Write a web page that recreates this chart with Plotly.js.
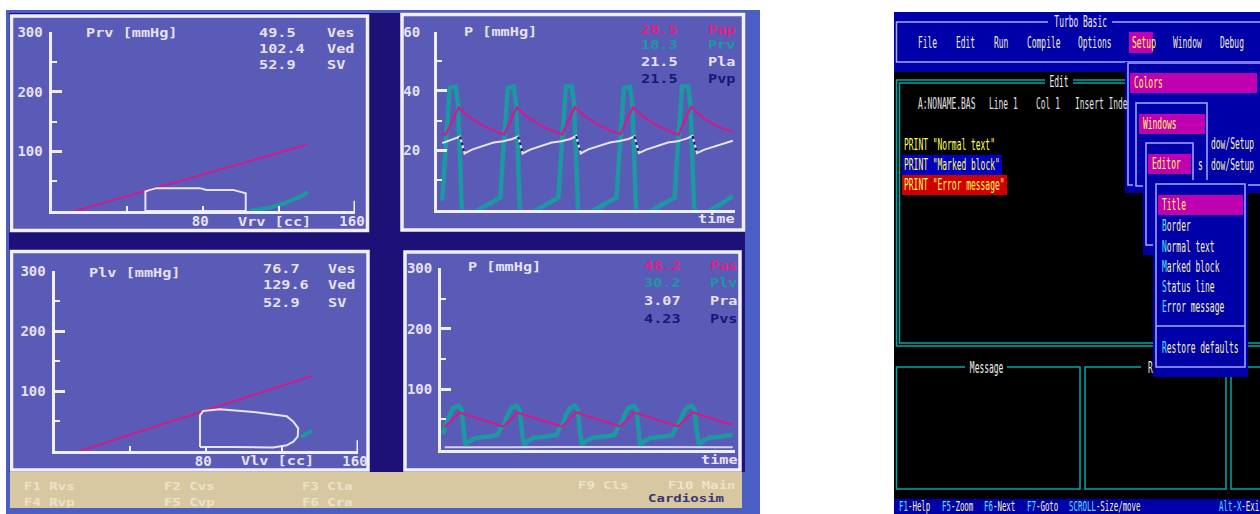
<!DOCTYPE html>
<html><head><meta charset="utf-8">
<script src="https://cdn.plot.ly/plotly-3.0.1.min.js"></script>
<style>html,body{margin:0;padding:0;background:#fff;overflow:hidden}#chart{width:1260px;height:514px}</style>
</head><body><div id="chart"></div>
<script>
// ---------------- DATA ----------------
// Top-left: right ventricle P-V plane (Vrv [cc], Prv [mmHg])
const rvEspvrV = [12.5, 134.6];
const rvEspvrP = [0, 111];
const rvLoopV = [49.5, 49.5, 51.5, 55.4, 78.2, 81.7, 95.7, 99.2, 102.4, 102.4, 49.5];
const rvLoopP = [0, 32.6, 35, 38.3, 38.3, 35.4, 35.4, 32.6, 29.8, 0, 0];
const rvEdpvrV = [104.5, 113.5, 122, 127.5, 132.5, 135];
const rvEdpvrP = [0, 4.5, 11.8, 18.5, 26, 32.5];
const rvValues = ['49.5', '102.4', '52.9'];
const rvNames = ['Ves', 'Ved', 'SV'];

// Top-right: pulmonary pressures vs time [s]
const tPrv = [0.07,0.11,0.15,0.17,0.25,0.28,0.31,0.33,0.36,0.49,0.67,0.81,
              0.85,0.89,0.93,0.95,1.03,1.06,1.09,1.11,1.14,1.27,1.45,1.59,
              1.63,1.67,1.71,1.73,1.81,1.84,1.87,1.89,1.92,2.05,2.23,2.37,
              2.41,2.45,2.49,2.51,2.59,2.62,2.65,2.67,2.70,2.83,3.01,3.15,
              3.19,3.23,3.27,3.29,3.37,3.40,3.43,3.45,3.48,3.61,3.79,3.97];
const Prv  = [3,20,36,41,41.5,36,16,1,-2,-1,1.5,3.5,
              4,20,36,41,41.5,36,16,1,-2,-1,1.5,3.5,
              4,20,36,41.5,41.5,36,16,1,-2,-1,1.5,3.5,
              4,20,36,41,41.5,36,16,1,-2,-1,1.5,3.5,
              4,20,36,41.5,41.5,36,16,1,-2,-1,1.5,4.5];
const tPap = [0.07,0.12,0.29,0.42,0.58,0.74,0.90,1.07,1.20,1.36,1.52,1.68,1.85,1.98,
              2.14,2.30,2.46,2.63,2.76,2.92,3.08,3.24,3.41,3.54,3.70,3.86,3.97];
const Pap  = [25.6,25.3,34.3,31.5,28.8,26.8,25.3,34.3,31.5,28.8,26.8,25.3,34.5,31.6,
              28.9,26.9,25.4,34.4,31.5,28.8,26.8,25.2,34.6,31.6,28.9,27.0,26.4];
const tPla = [0.07,0.23,0.31,0.37,0.47,0.60,0.76,0.89,1.01,1.09,1.15,1.25,1.38,1.54,
              1.67,1.79,1.87,1.93,2.03,2.16,2.32,2.45,2.57,2.65,2.71,2.81,2.94,3.10,
              3.23,3.35,3.43,3.49,3.59,3.72,3.88,3.97];
const Pla  = [22.4,23.8,24.6,18.9,20.2,21.3,22.6,23.0,23.8,24.6,18.9,20.2,21.3,22.6,
              23.0,23.8,24.8,18.9,20.3,21.4,22.6,23.1,23.8,24.7,19.0,20.2,21.3,22.6,
              23.0,23.9,24.8,19.0,20.2,21.3,22.6,23.2];
const tPvp = [0.31,0.37,null,1.09,1.15,null,1.87,1.93,null,2.65,2.71,null,3.43,3.49];
const Pvp  = [24.6,18.9,null,24.6,18.9,null,24.8,18.9,null,24.7,19.0,null,24.8,19.0];
const pulValues = ['28.5', '18.3', '21.5', '21.5'];
const pulNames = ['Pap', 'Prv', 'Pla', 'Pvp'];

// Bottom-left: left ventricle P-V plane (Vlv [cc], Plv [mmHg])
const lvEspvrV = [13.5, 135.7];
const lvEspvrP = [0, 125];
const lvLoopV = [76.7, 76.7, 78.4, 87.2, 104.8, 122.4, 125.9, 128.5, 128.2, 125.9, 122.4, 115.3, 94.3, 78.4, 76.7];
const lvLoopP = [6.7, 59.5, 66.7, 69.5, 65, 58, 48.8, 37.7, 23.8, 15.5, 9.5, 5.7, 6.7, 6.7, 6.7];
const lvEdpvrV = [130, 133, 135.6];
const lvEdpvrP = [23.5, 30, 34];
const lvValues = ['76.7', '129.6', '52.9'];
const lvNames = ['Ves', 'Ved', 'SV'];

// Bottom-right: systemic pressures vs time [s]
const tPas = [0.04,0.06,0.25,0.41,0.58,0.74,0.85,1.04,1.21,1.37,1.53,1.65,1.84,2.00,
              2.16,2.33,2.44,2.63,2.79,2.96,3.12,3.23,3.42,3.59,3.75,3.91,3.97];
const Pas  = [38.5,38,61,55,48.5,42.5,38,61,55,48.5,42.5,38,61.5,55,
              48.5,42.5,38,61,55,48.5,42.5,38,61.5,55,48.5,42.5,41.5];
const tPlv = [0.03,0.06,0.12,0.17,0.24,0.28,0.31,0.33,0.39,0.47,0.67,
              0.77,0.81,0.85,0.91,0.96,1.03,1.07,1.10,1.13,1.18,1.26,1.46,
              1.57,1.61,1.65,1.70,1.76,1.82,1.86,1.89,1.92,1.97,2.05,2.26,
              2.36,2.40,2.44,2.50,2.55,2.62,2.66,2.69,2.71,2.77,2.85,3.05,
              3.15,3.19,3.23,3.29,3.34,3.41,3.45,3.48,3.51,3.56,3.64,3.84,3.97];
const Plv  = [25,40,58,69,72,66,30,8,14,19,22,
              24,35,40,58,69,72,66,30,8,14,19,22,
              24,35,40,58,69,72,66,30,8,14,19,22,
              24,35,40,58,69,72,66,30,8,14,19,22,
              24,35,40,58,69,72,66,30,8,14,19,22,24.5];
const tPra = [0.05,0.80,1.60,2.40,3.20,3.97];
const Pra  = [3.6,4.2,4.0,4.2,4.1,3.8];
const sysValues = ['48.2', '30.2', '3.07', '4.23'];
const sysNames = ['Pas', 'Plv', 'Pra', 'Pvs'];

// Axis tick labels
const pvTickVals = [100, 200, 300];
const pvMinorVals = [50, 150, 250];
const volTickVals = [80, 160];
const volMinorVals = [40, 120];
const pulTickVals = [20, 40, 60];
const pulMinorVals = [10, 30, 50];

// Turbo Basic screen texts
const menuItems = ['File', 'Edit', 'Run', 'Compile', 'Options', 'Setup', 'Window', 'Debug'];
const editLines = ['PRINT "Normal text"', 'PRINT "Marked block"', 'PRINT "Error message"'];
const colorItems = ['Title', 'Border', 'Normal text', 'Marked block', 'Status line', 'Error message', 'Restore defaults'];
const statusKeys = [['F1', '-Help'], ['F5', '-Zoom'], ['F6', '-Next'], ['F7', '-Goto'], ['SCROLL', '-Size/move'], ['Alt-X', '-Exi']];

// ---------------- STYLE / LAYOUT ----------------
const W = 1260, H = 514;
const px = x => x / W, py = y => 1 - y / H;
const MAG = '#c81f8c', MAGT = '#df2188', TEAL = '#1b98a2', WHT = '#e8e4ee', NAVY = '#17177a';
const FG = '#f1f0f8', PANEL = '#5a5bb6', DARK = '#1d1177', LBLUE = '#4a5ec3';
const CRT = 'DejaVu Sans Mono, Liberation Mono, monospace';
const DOS = 'DejaVu Sans Mono, Liberation Mono, monospace';
const TICKFONT = {family: CRT, size: 14, color: '#e6e1ee', weight: 'bold'};

const shapes = [];
function rect(x0, y0, x1, y1, fill, line, lw) {
  shapes.push({type: 'rect', xref: 'paper', yref: 'paper', x0: px(x0), x1: px(x1), y0: py(y1), y1: py(y0),
    fillcolor: fill || 'rgba(0,0,0,0)', line: {color: line || 'rgba(0,0,0,0)', width: line ? (lw || 1.5) : 0}, layer: 'below'});
}
function hline(x0, x1, y, color, lw) {
  shapes.push({type: 'line', xref: 'paper', yref: 'paper', x0: px(x0), x1: px(x1), y0: py(y), y1: py(y),
    line: {color: color, width: lw || 1.5}, layer: 'below'});
}

// Left photograph (CRT)
rect(6, 10, 760, 514, LBLUE);
rect(9, 13, 745, 472, DARK);
rect(11.5, 16, 367.5, 230.5, PANEL, FG, 3.5);
rect(402, 14.5, 743.5, 230, PANEL, FG, 3.5);
rect(11.5, 251.5, 368, 470, PANEL, FG, 3.5);
rect(405, 252, 740, 470, PANEL, FG, 3.5);
rect(10, 472, 742, 508, '#d8c8a1');

// Right screenshot (Turbo Basic)
const DBLUE = '#0000a8', TEALL = '#00a8a8', MENUL = '#a8a8ff', MAGB = '#c000b0';
rect(894, 12, 1260, 514, '#000000');
rect(894, 12, 1260, 72, DBLUE);
rect(894, 499, 1260, 514, DBLUE);
rect(896.5, 22, 1264, 62, null, MENUL, 1.5);
rect(1048, 16, 1112, 28, DBLUE);
rect(1129, 32, 1153, 53, MAGB);
rect(896.5, 80, 1270, 346, null, TEALL, 1.5);
rect(899.5, 83, 1270, 343, null, TEALL, 1.5);
rect(1045, 75, 1073, 88, '#000000');
rect(896.5, 367, 1080, 489, null, TEALL, 1.5);
rect(965, 362, 1007, 373, '#000000');
rect(1085, 367, 1226, 489, null, TEALL, 1.5);
rect(1141, 362, 1153, 373, '#000000');
rect(1231, 367, 1275, 489, null, TEALL, 1.5);
rect(902, 155, 1002, 175, '#0000c0');
rect(902, 175, 1007, 195, '#d00000');
rect(1125, 62, 1262, 193, DBLUE);
rect(1128, 63, 1264, 185, null, MENUL, 1.5);
rect(1130, 73, 1257, 93, MAGB);
rect(1133, 100, 1210, 190, DBLUE);
rect(1136, 103, 1207, 186, null, MENUL, 1.5);
rect(1139, 114, 1205, 134, MAGB);
rect(1143, 140, 1196, 255, DBLUE);
rect(1146, 143, 1193, 245, null, MENUL, 1.5);
rect(1148, 154, 1191, 174, MAGB);
rect(1153, 180, 1248, 377, DBLUE);
rect(1156, 184, 1245, 367, null, MENUL, 1.5);
rect(1158, 195, 1243, 215, MAGB);
hline(1156, 1245, 326, MENUL, 1.5);

// end ticks on volume axes
shapes.push({type: 'line', xref: 'x', yref: 'y', x0: 160, x1: 160, y0: 0, y1: 17, line: {color: FG, width: 3}});
shapes.push({type: 'line', xref: 'x3', yref: 'y3', x0: 160, x1: 160, y0: 0, y1: 18, line: {color: FG, width: 3}});

const annotations = [];
const textScale = [];
function T(x, y, text, color, size, family, weight, sx, sy, anchor) {
  annotations.push({xref: 'paper', yref: 'paper', x: px(x), y: py(y), text: text, showarrow: false,
    xanchor: anchor || 'left', yanchor: 'middle', borderpad: 0,
    font: {family: family || CRT, size: size || 13, color: color, weight: weight || 'bold'}});
  textScale.push([sx || 1, sy || 1, anchor || 'left']);
}
const C = (x, y, text, color, size) => T(x, y, text, color, size || 13, CRT, 'bold', 1.17, 0.88);
const D = (x, y, text, color, anchor, size) => T(x, y, text, color, size || 15, DOS, 'normal', 0.53, 1.02, anchor);

// CRT texts
const LT = '#e6e1ee';
C(85, 34, 'Prv [mmHg]', LT);
rvValues.forEach((v, i) => { C(258, [34, 49, 65][i], v, LT); C(326, [34, 49, 65][i], rvNames[i], LT); });
C(237, 222, 'Vrv [cc]', LT);
C(463, 32, 'P [mmHg]', LT);
const pulCols = [MAGT, TEAL, LT, NAVY];
pulValues.forEach((v, i) => { C(640, [30, 45, 62, 79][i], v, pulCols[i]); C(707, [30, 45, 62, 79][i], pulNames[i], pulCols[i]); });
C(697, 219, 'time', LT);
C(88, 273, 'Plv [mmHg]', LT);
lvValues.forEach((v, i) => { C(262, [269, 285, 303][i], v, LT); C(327, [269, 285, 303][i], lvNames[i], LT); });
C(240, 461, 'Vlv [cc]', LT);
C(467, 267, 'P [mmHg]', LT);
sysValues.forEach((v, i) => { C(643, [266, 283, 301, 319][i], v, pulCols[i]); C(709, [266, 283, 301, 319][i], sysNames[i], pulCols[i]); });
C(700, 460, 'time', LT);
// function-key bar
const FK = '#ece3c8';
C(23, 487, 'F1 Rvs', FK, 12); C(23, 503, 'F4 Rvp', FK, 12);
C(163, 487, 'F2 Cvs', FK, 12); C(163, 503, 'F5 Cvp', FK, 12);
C(301, 487, 'F3 Cla', FK, 12); C(301, 503, 'F6 Cra', FK, 12);
C(577, 486, 'F9 Cls', FK, 12); C(667, 486, 'F10 Main', FK, 12);
C(647, 499, 'Cardiosim', '#3a3678', 12);

// Turbo Basic texts
const MENU = '#eeeec8', YEL = '#ffff55', CY = '#4ae8ff', LY = '#f4f4b4', WT = '#eeeeee';
D(1080, 22, 'Turbo Basic', WT, 'center');
const menuX = [917, 955, 993, 1026, 1077, 1131, 1172, 1219];
menuItems.forEach((m, i) => D(menuX[i], 43, m, m === 'Setup' ? YEL : MENU));
D(1059, 82, 'Edit', WT, 'center');
D(917, 104, 'A:NONAME.BAS', '#e0e0e0');
D(988, 104, 'Line 1', '#e0e0e0');
D(1035, 104, 'Col 1', '#e0e0e0');
D(1074, 104, 'Insert Inde', '#e0e0e0');
editLines.forEach((s, i) => D(903, [145, 165, 185][i], s, YEL));
D(1133, 83, 'Colors', YEL);
D(1142, 124, 'Windows', YEL);
D(1210, 144, 'dow/Setup', LY);
D(1210, 165, 'dow/Setup', LY);
D(1151, 164, 'Editor', YEL);
D(1197, 165, 's', LY);
const colorY = [205, 226, 247, 267, 287, 307, 348];
colorItems.forEach((s, i) => {
  if (i === 0) D(1161, colorY[i], s, YEL);
  else D(1161, colorY[i], '<span style="color:' + CY + '">' + s[0] + '</span>' + s.slice(1), LY);
});
D(986, 368, 'Message', WT, 'center');
D(1147, 368, 'R', WT);
const statusX = [898, 941, 983, 1026, 1068, 1218];
statusKeys.forEach((s, i) => D(statusX[i], 505.5, '<span style="color:' + CY + '">' + s[0] + '</span>' + s[1], LY, 'left', 14));

// axes
const base = {showgrid: false, zeroline: false, showline: true, linecolor: FG, linewidth: 3, fixedrange: true,
  tickfont: TICKFONT, tickcolor: FG};
function volAxis(dom, anchor) {
  return Object.assign({}, base, {domain: dom, range: [0, 160], anchor: anchor, tickmode: 'array',
    tickvals: volTickVals, ticktext: volTickVals.map(String), ticks: 'inside', ticklen: 5, tickwidth: 2,
    ticklabelshift: -3, ticklabelstandoff: -5,
    minor: {tickmode: 'array', tickvals: volMinorVals, ticks: 'inside', ticklen: 5, tickwidth: 2, tickcolor: FG, showgrid: false}});
}
function presAxis(dom, anchor, rng, vals, minor, standoff) {
  return Object.assign({}, base, {domain: dom, range: rng, anchor: anchor, tickmode: 'array',
    tickvals: vals, ticktext: vals.map(String), ticks: 'inside', ticklen: 10, tickwidth: 3, ticklabelstandoff: standoff,
    minor: {tickmode: 'array', tickvals: minor, ticks: 'inside', ticklen: 5, tickwidth: 2, tickcolor: FG, showgrid: false}});
}
function timeAxis(dom, anchor) {
  return Object.assign({}, base, {domain: dom, range: [0, 4.0], anchor: anchor, ticks: '', showticklabels: false});
}

const layout = {
  width: W, height: H, margin: {l: 0, r: 0, t: 0, b: 0}, paper_bgcolor: '#ffffff', plot_bgcolor: 'rgba(0,0,0,0)',
  showlegend: false, hovermode: false,
  xaxis: volAxis([px(51.5), px(355)], 'y'),
  yaxis: presAxis([py(211), py(32)], 'x', [0, 300], pvTickVals, pvMinorVals, 3),
  xaxis2: timeAxis([px(437), px(735)], 'y2'),
  yaxis2: presAxis([py(209.5), py(31.7)], 'x2', [0, 60], pulTickVals, pulMinorVals, 11),
  xaxis3: volAxis([px(54.5), px(358)], 'y3'),
  yaxis3: presAxis([py(451), py(271)], 'x3', [0, 300], pvTickVals, pvMinorVals, 3),
  xaxis4: timeAxis([px(441), px(735)], 'y4'),
  yaxis4: presAxis([py(449.5), py(268.3)], 'x4', [0, 300], pvTickVals, pvMinorVals, 3),
  shapes: shapes, annotations: annotations
};

const L = (x, y, xa, ya, color, width, dash) => ({x: x, y: y, xaxis: xa, yaxis: ya, type: 'scatter', mode: 'lines',
  line: {color: color, width: width, dash: dash || 'solid'}, hoverinfo: 'skip', connectgaps: false});
const data = [
  L(rvEspvrV, rvEspvrP, 'x', 'y', MAG, 2),
  L(rvLoopV, rvLoopP, 'x', 'y', WHT, 2),
  L(rvEdpvrV, rvEdpvrP, 'x', 'y', TEAL, 4),
  L(tPrv, Prv, 'x2', 'y2', TEAL, 4.5),
  L(tPap, Pap, 'x2', 'y2', MAG, 2.2),
  L(tPla, Pla, 'x2', 'y2', WHT, 2),
  L(tPvp, Pvp, 'x2', 'y2', NAVY, 2.2, 'dot'),
  L(lvEspvrV, lvEspvrP, 'x3', 'y3', MAG, 2),
  L(lvLoopV, lvLoopP, 'x3', 'y3', WHT, 2),
  L(lvEdpvrV, lvEdpvrP, 'x3', 'y3', TEAL, 4),
  L(tPra, Pra, 'x4', 'y4', '#d8d4e6', 2),
  L(tPlv, Plv, 'x4', 'y4', TEAL, 4.5),
  L(tPas, Pas, 'x4', 'y4', MAG, 2.2)
];

function applyTextScale() {
  document.querySelectorAll('g.annotation').forEach(g => {
    const i = +g.getAttribute('data-index');
    const sc = textScale[i];
    const t = g.querySelector('text.annotation-text');
    if (!sc || !t || (sc[0] === 1 && sc[1] === 1)) return;
    t.style.transformBox = 'fill-box';
    t.style.transformOrigin = sc[2] === 'center' ? 'center center' : 'left center';
    t.style.transform = 'scale(' + sc[0] + ',' + sc[1] + ')';
  });
}
Plotly.newPlot('chart', data, layout, {staticPlot: true, displayModeBar: false}).then(applyTextScale);
</script></body></html>
